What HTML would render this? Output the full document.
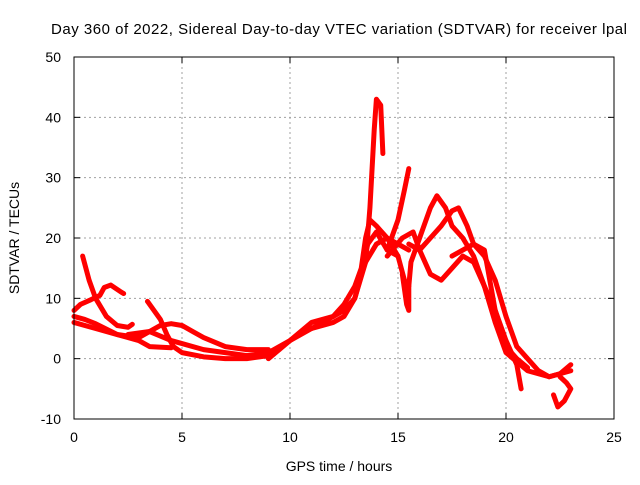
<!DOCTYPE html>
<html><head><meta charset="utf-8"><style>
body{margin:0;background:#fff;}
svg text{font-family:"Liberation Sans",sans-serif;font-size:14px;fill:#000;}
</style></head><body>
<svg width="640" height="480" xmlns="http://www.w3.org/2000/svg">
<rect width="640" height="480" fill="#fff"/>
<text x="51" y="34" textLength="576" lengthAdjust="spacing" style="font-size:15px">Day 360 of 2022, Sidereal Day-to-day VTEC variation (SDTVAR) for receiver lpal</text>
<g id="grid"></g>
<g id="axes"></g>
<g id="series"></g>
<rect x="74" y="57" width="540" height="362" fill="none" stroke="#000" stroke-width="1"/>
<text x="339" y="471" text-anchor="middle">GPS time / hours</text>
<text transform="translate(19,238) rotate(-90)" text-anchor="middle">SDTVAR / TECUs</text>
</svg>
<script>
const xTicks=[0,5,10,15,20,25];
const yTicks=[-10,0,10,20,30,40,50];
const tracks=[
[[0,8],[0.3,9],[0.8,9.8],[1.2,10.5],[1.4,11.8],[1.7,12.2],[2.2,11],[2.3,10.8]],
[[0.4,17],[0.7,13],[1.0,10],[1.5,7],[2,5.5],[2.5,5.2],[2.7,5.7]],
[[0,7],[0.5,6.5],[1,5.8],[2,4],[3,3],[3.5,2],[4.5,1.8]],
[[0,6],[1,5],[2,4],[3,3.5],[4,5.5],[4.5,5.8],[5,5.5],[5.5,4.5],[6,3.5],[7,2],[8,1.5],[9,1.5]],
[[3.4,9.5],[4,6.5],[4.3,4],[4.6,2],[5,1],[6,0.3],[7,0],[8,0],[9,0.5],[9.5,1.5]],
[[2.5,4],[3.5,4.5],[4.5,3],[5,2.5],[6,1.5],[7,1],[8,0.5],[9,1],[10,3],[11,5],[12,7],[12.5,9],[13,12],[13.3,15],[13.5,20],[13.7,23],[14,22],[14.5,20],[15,17],[15.3,13],[15.5,12]],
[[13.5,16],[13.7,25],[13.9,38],[14,43],[14.2,42],[14.3,34]],
[[9,0],[10,3],[11,6],[12,7],[12.5,8],[13,10],[13.5,16],[14,19],[14.5,20],[15,19],[15.5,18]],
[[11,5],[12,6],[12.5,7],[13,10],[13.3,14],[13.6,19],[14,21],[14.5,18],[15,17]],
[[14.5,18],[15,23],[15.3,28],[15.5,31.5]],
[[15.2,14],[15.4,9],[15.5,8],[15.5,12],[15.6,16],[16,20],[16.5,25],[16.8,27],[17.2,25],[17.5,22],[18,20],[18.5,17],[19,12],[19.5,8],[20,3],[20.5,-1],[20.7,-5]],
[[14.5,17],[15.2,20],[15.7,21],[16,18],[16.5,14],[17,13],[17.5,15],[18,17],[18.5,16],[19,12],[19.5,6],[20,1],[21,-2],[22,-3],[23,-2]],
[[15.5,19],[16,18],[16.5,20],[17,22],[17.5,24.5],[17.8,25],[18.2,22],[18.5,19],[19,17],[19.5,13],[20,7],[20.5,2],[21,0],[21.5,-2],[22,-3],[22.5,-2.5],[23,-1]],
[[17.5,17],[18,18],[18.5,19],[19,18],[19.2,14],[19.5,8],[20,2],[20.5,0],[21,-1.5]],
[[22.2,-6],[22.4,-8],[22.7,-7],[23,-5],[22.8,-4],[22.5,-3]]
];
const NS="http://www.w3.org/2000/svg";
const X0=74,X1=614,Y0=419,Y1=57;
function sx(v){return X0+(v-0)/(25-0)*(X1-X0);}
function sy(v){return Y0-(v+10)/(60)*(Y0-Y1);}
const grid=document.getElementById('grid'),axes=document.getElementById('axes'),ser=document.getElementById('series');
function mk(tag,attrs,parent){const e=document.createElementNS(NS,tag);for(const k in attrs)e.setAttribute(k,attrs[k]);parent.appendChild(e);return e;}
xTicks.forEach(t=>{
 const x=sx(t);
 if(t>0&&t<25){const g=mk('line',{x1:x,x2:x,y1:Y1,y2:Y0,stroke:'#a0a0a0','stroke-dasharray':'2,3'},grid);
 
 }
 mk('line',{x1:x,x2:x,y1:Y0,y2:Y0-6,stroke:'#000'},axes);
 mk('line',{x1:x,x2:x,y1:Y1,y2:Y1+6,stroke:'#000'},axes);
 const l=mk('text',{x:x,y:Y0+23,'text-anchor':'middle'},axes);l.textContent=t;
 
 
});
yTicks.forEach(t=>{
 const y=sy(t);
 if(t>-10&&t<50){const g=mk('line',{x1:X0,x2:X1,y1:y,y2:y,stroke:'#a0a0a0','stroke-dasharray':'2,3'},grid);
 
 }
 mk('line',{x1:X0,x2:X0+6,y1:y,y2:y,stroke:'#000'},axes);
 mk('line',{x1:X1,x2:X1-6,y1:y,y2:y,stroke:'#000'},axes);
 const l=mk('text',{x:X0-13,y:y+5,'text-anchor':'end'},axes);l.textContent=t;
 
 
});
tracks.forEach(tr=>{
 const p=mk('polyline',{points:tr.map(d=>sx(d[0])+','+sy(d[1])).join(' '),fill:'none',stroke:'#f00','stroke-width':5,'stroke-linejoin':'round','stroke-linecap':'round'},ser);
 
 
});
</script>
</body></html>
